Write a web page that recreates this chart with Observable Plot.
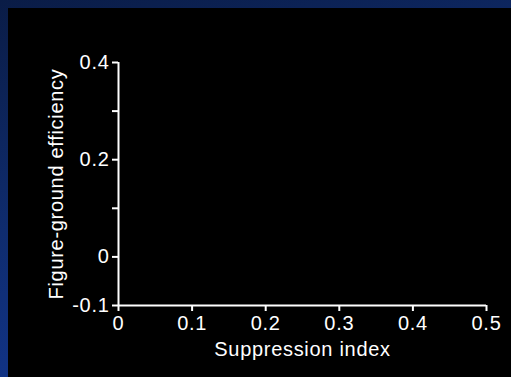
<!DOCTYPE html>
<html>
<head>
<meta charset="utf-8">
<script src="https://cdn.jsdelivr.net/npm/d3@7"></script>
<script src="https://cdn.jsdelivr.net/npm/@observablehq/plot@0.6"></script>
<style>
  html, body { margin: 0; padding: 0; }
  body {
    width: 511px; height: 377px; overflow: hidden;
    background: linear-gradient(165deg, #0a1c46 0%, #0f2c6e 45%, #13399a 100%);
    position: relative;
  }
  #chart { position: absolute; left: 8px; top: 8px; width: 503px; height: 369px; background: #000; }
  #chart svg { display: block; }
</style>
</head>
<body>
<div id="chart"></div>
<script>
// Axis definitions (the reference chart shows empty axes, no plotted points)
const xTicks = [0, 0.1, 0.2, 0.3, 0.4, 0.5];
const xTickLabels = ["0", "0.1", "0.2", "0.3", "0.4", "0.5"];
const yTicks = [-0.1, 0, 0.1, 0.2, 0.3, 0.4];
const yTickLabels = ["-0.1", "0", "", "0.2", "", "0.4"];
const xDomain = [0, 0.5];
const yDomain = [-0.1, 0.4];
const xLabel = "Suppression index";
const yLabel = "Figure-ground efficiency";
// Data series (none visible in the reference)
const seriesX = [];
const seriesY = [];

const points = seriesX.map((x, i) => ({x, y: seriesY[i]}));
const font = "'Liberation Sans', Arial, Helvetica, sans-serif";

const chart = Plot.plot({
  width: 503,
  height: 369,
  marginLeft: 110,
  marginRight: 25,
  marginTop: 54,
  marginBottom: 72,
  style: {
    background: "#000",
    color: "#fff",
    fontFamily: font,
    fontSize: "20px",
    letterSpacing: "0.7px"
  },
  x: {domain: xDomain, label: null},
  y: {domain: yDomain, label: null},
  marks: [
    Plot.axisX({
      ticks: xTicks,
      tickFormat: (d, i) => xTickLabels[i],
      tickSize: 6,
      tickPadding: 4,
      strokeWidth: 2,
      stroke: "#fff",
      fill: "#fff",
      fontSize: 20,
      label: null
    }),
    Plot.axisY({
      ticks: yTicks,
      tickFormat: (d, i) => yTickLabels[i],
      tickSize: 6,
      tickPadding: 3,
      strokeWidth: 2,
      stroke: "#fff",
      fill: "#fff",
      fontSize: 20,
      label: null
    }),
    Plot.text([xLabel], {text: d => d, frameAnchor: "bottom", lineAnchor: "middle", dy: 44, fill: "#fff", fontSize: 20}),
    Plot.text([yLabel], {text: d => d, frameAnchor: "left", textAnchor: "middle", lineAnchor: "middle", rotate: -90, dx: -62, fill: "#fff", fontSize: 20}),
    Plot.ruleX([xDomain[0]], {y1: yDomain[0], y2: yDomain[1], stroke: "#fff", strokeWidth: 2}),
    Plot.ruleY([yDomain[0]], {x1: xDomain[0], x2: xDomain[1], stroke: "#fff", strokeWidth: 2}),
    Plot.dot(points, {x: "x", y: "y", fill: "#fff", r: 3})
  ]
});
document.getElementById("chart").appendChild(chart);
</script>
</body>
</html>
